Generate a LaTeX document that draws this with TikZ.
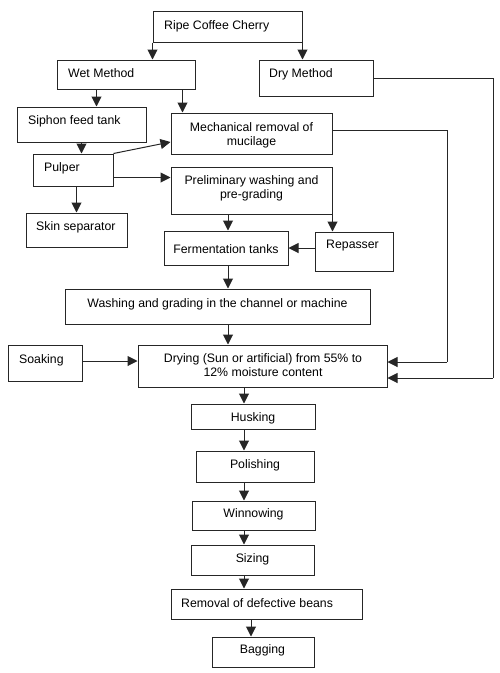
\documentclass[tikz,border=0pt]{standalone}
\usepackage{fontspec}
\setmainfont{Liberation Sans}
\usetikzlibrary{arrows.meta,fit}
\begin{document}
\begin{tikzpicture}[x=1pt,y=-1pt,
  box/.style={draw=black!85,line width=1pt,inner sep=0pt,fit={#1}},
  lbl/.style={inner sep=0pt,font=\fontsize{12.3pt}{14pt}\selectfont},
  llbl/.style={lbl,anchor=base west},
  clbl/.style={lbl,align=center,anchor=base},
  arr/.style={draw=black!85,line width=1pt,-{Triangle[width=10pt,length=10pt]}},
  ln/.style={draw=black!85,line width=1pt}]
\useasboundingbox (0,0) rectangle (500,673);
% boxes
\node[box={(153,11)(302,42)}] (ripe) {};
\node[box={(57,60)(195,89)}] (wet) {};
\node[box={(259,60)(373,96)}] (dry) {};
\node[box={(17,107)(146,142)}] (sip) {};
\node[box={(171,113)(332,154)}] (mech) {};
\node[box={(33,154)(113,186)}] (pulp) {};
\node[box={(171,167)(332,214)}] (prelim) {};
\node[box={(26,213)(127,247)}] (skin) {};
\node[box={(164,231)(288,265)}] (ferm) {};
\node[box={(315,232)(393,271)}] (rep) {};
\node[box={(65,289)(370,324)}] (wash) {};
\node[box={(8,345)(82,381)}] (soak) {};
\node[box={(138,345)(387,387)}] (drying) {};
\node[box={(191,404)(315,429)}] (husk) {};
\node[box={(196,451)(314,482)}] (pol) {};
\node[box={(192,501)(315,530)}] (win) {};
\node[box={(191,545)(314,575)}] (siz) {};
\node[box={(171,589)(362,619)}] (rem) {};
\node[box={(212,637)(314,667)}] (bag) {};
% labels
\node[llbl] (t-ripe) at (164,29) {Ripe Coffee Cherry};
\node[llbl] (t-wet) at (68,77.5) {Wet Method};
\node[llbl] (t-dry) at (269,77.5) {Dry Method};
\node[llbl] (t-sip) at (28,124.5) {Siphon feed tank};
\node[clbl] (t-mech) at (251.5,145.5) {Mechanical removal of\\mucilage};
\node[llbl] (t-pulp) at (44,171.5) {Pulper};
\node[clbl] (t-prelim) at (251.5,198.5) {Preliminary washing and\\pre-grading};
\node[llbl] (t-skin) at (36,230.5) {Skin separator};
\node[clbl] (t-ferm) at (226,253.5) {Fermentation tanks};
\node[llbl] (t-rep) at (326,248.5) {Repasser};
\node[clbl] (t-wash) at (217.5,307.5) {Washing and grading in the channel or machine};
\node[llbl] (t-soak) at (19,363.5) {Soaking};
\node[clbl] (t-drying) at (263,376.7) {Drying (Sun or artificial) from 55\% to\\12\% moisture content};
\node[clbl] (t-husk) at (253,421.5) {Husking};
\node[clbl] (t-pol) at (255,468.5) {Polishing};
\node[clbl] (t-win) at (253.5,517.5) {Winnowing};
\node[clbl] (t-siz) at (252.5,562.5) {Sizing};
\node[llbl] (t-rem) at (181,607.5) {Removal of defective beans};
\node[clbl] (t-bag) at (262.5,653.5) {Bagging};
% helper coordinates
\coordinate (colx) at (244,0);
\coordinate (colb) at (251,0);
\coordinate (dryc) at (493,378);
\coordinate (mechc) at (447,362);
% connectors
\draw[arr] (ripe.south west) -- (ripe.south west |- wet.north);
\draw[arr] (ripe.south east) -- (ripe.south east |- dry.north);
\draw[arr] ([xshift=40pt]wet.south west) -- ([xshift=40pt]wet.south west |- sip.north);
\draw[arr] ([xshift=-13pt]wet.south east) -- ([xshift=-13pt]wet.south east |- mech.north);
\draw[arr] (sip.south) -- (sip.south |- pulp.north);
\draw[arr] (pulp.north east) -- ([yshift=-8.5pt]mech.west);
\draw[arr] ([yshift=-7.5pt]pulp.east) -- ([yshift=-7.5pt]pulp.east -| prelim.west);
\draw[arr] (skin.north |- pulp.south) -- (skin.north);
\draw[arr] ([xshift=2pt]ferm.north |- prelim.south) -- ([xshift=2pt]ferm.north);
\draw[arr] (prelim.south east) -- (prelim.south east |- rep.north);
\draw[arr] (rep.west |- ferm.east) -- (ferm.east);
\draw[arr] ([xshift=2pt]ferm.south) -- ([xshift=2pt]ferm.south |- wash.north);
\draw[arr] ([xshift=2pt]ferm.south |- wash.south) -- ([xshift=2pt]ferm.south |- drying.north);
\draw[arr] ([yshift=2pt]soak.east) -- ([yshift=2pt]soak.east -| drying.west);
\draw[ln] ([yshift=3pt]mech.east) -| (mechc);
\draw[arr] (mechc) -- (mechc -| drying.east);
\draw[ln] (dry.east) -| (dryc);
\draw[arr] (dryc) -- (dryc -| drying.east);
\draw[arr] (colx |- drying.south) -- (colx |- husk.north);
\draw[arr] (colx |- husk.south) -- (colx |- pol.north);
\draw[arr] (colx |- pol.south) -- (colx |- win.north);
\draw[arr] (colx |- win.south) -- (colx |- siz.north);
\draw[arr] (colx |- siz.south) -- (colx |- rem.north);
\draw[arr] (colb |- rem.south) -- (colb |- bag.north);
\end{tikzpicture}
\end{document}
